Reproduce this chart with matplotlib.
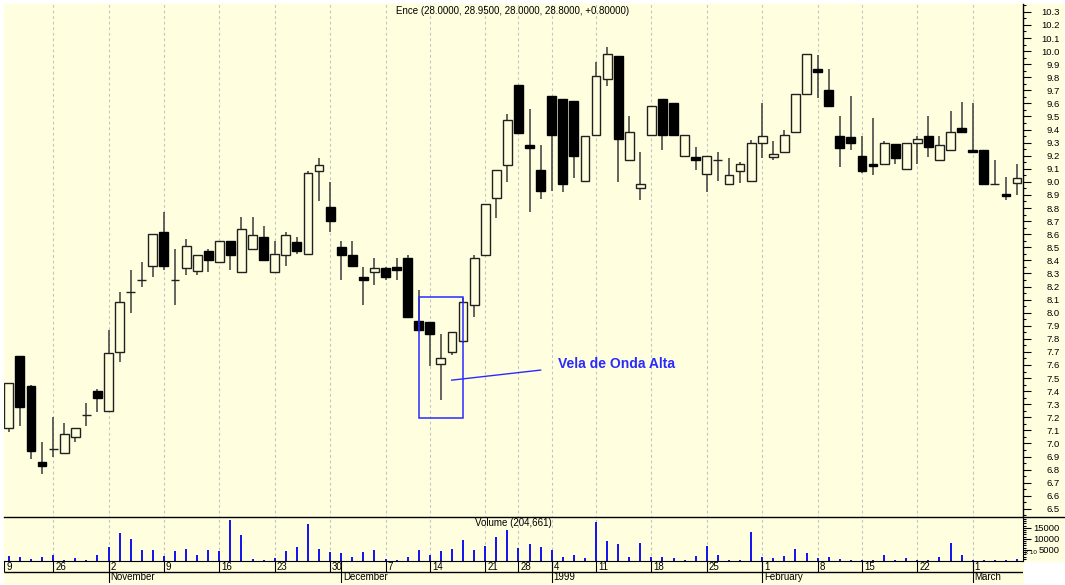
import matplotlib
matplotlib.use("Agg")
import matplotlib.pyplot as plt
import numpy as np
from matplotlib.lines import Line2D
from matplotlib.patches import Rectangle

plt.rcParams['font.family'] = ['Liberation Sans', 'DejaVu Sans']

# --- data (Ence, Oct 1998 - Mar 1999) ---
opens = [7.12, 7.67, 7.44, 6.86, 6.96, 6.93, 7.05, 7.22, 7.40, 7.25,
         7.70, 8.16, 8.25, 8.36, 8.62, 8.25, 8.34, 8.32, 8.47, 8.39,
         8.55, 8.31, 8.49, 8.58, 8.31, 8.44, 8.54, 8.45, 9.08, 8.81,
         8.50, 8.44, 8.27, 8.31, 8.34, 8.35, 8.42, 7.94, 7.93, 7.61,
         7.70, 7.78, 8.06, 8.44, 8.88, 9.13, 9.74, 9.28, 9.09, 9.66,
         9.63, 9.62, 9.01, 9.36, 9.79, 9.96, 9.17, 8.95, 9.36, 9.63,
         9.60, 9.20, 9.19, 9.06, 9.17, 8.98, 9.08, 9.01, 9.30, 9.19,
         9.23, 9.38, 9.67, 9.86, 9.70, 9.35, 9.34, 9.20, 9.14, 9.14,
         9.29, 9.10, 9.30, 9.35, 9.17, 9.24, 9.41, 9.24, 9.24, 8.98,
         8.91, 8.99]
highs = [7.46, 7.67, 7.45, 7.01, 7.20, 7.16, 7.12, 7.31, 7.42, 7.87,
         8.16, 8.33, 8.39, 8.60, 8.77, 8.49, 8.56, 8.44, 8.49, 8.55,
         8.55, 8.73, 8.73, 8.66, 8.55, 8.62, 8.58, 9.08, 9.18, 9.00,
         8.55, 8.55, 8.35, 8.42, 8.35, 8.42, 8.44, 8.17, 7.93, 7.84,
         7.85, 8.11, 8.44, 8.83, 9.09, 9.52, 9.74, 9.56, 9.28, 9.66,
         9.63, 9.62, 9.35, 9.92, 10.03, 9.96, 9.50, 9.23, 9.58, 9.63,
         9.60, 9.36, 9.27, 9.20, 9.23, 9.18, 9.15, 9.32, 9.60, 9.31,
         9.40, 9.67, 9.98, 9.97, 9.86, 9.50, 9.66, 9.35, 9.49, 9.31,
         9.29, 9.30, 9.35, 9.50, 9.35, 9.54, 9.61, 9.60, 9.24, 9.17,
         9.04, 9.14]
lows = [7.09, 7.13, 6.88, 6.77, 6.90, 6.93, 7.01, 7.13, 7.24, 7.25,
        7.62, 8.00, 8.20, 8.27, 8.33, 8.06, 8.29, 8.29, 8.31, 8.39,
        8.33, 8.31, 8.49, 8.40, 8.31, 8.36, 8.45, 8.45, 8.85, 8.62,
        8.25, 8.36, 8.06, 8.21, 8.25, 8.25, 7.97, 7.87, 7.59, 7.33,
        7.68, 7.77, 7.97, 8.44, 8.72, 9.00, 9.37, 8.77, 8.87, 8.93,
        8.92, 9.03, 9.01, 9.36, 9.73, 9.00, 9.17, 8.86, 9.36, 9.24,
        9.36, 9.20, 9.09, 8.92, 9.01, 8.98, 8.99, 9.01, 9.18, 9.17,
        9.23, 9.38, 9.67, 9.64, 9.58, 9.11, 9.24, 9.07, 9.05, 9.14,
        9.14, 9.10, 9.14, 9.19, 9.16, 9.24, 9.38, 9.23, 8.98, 8.98,
        8.86, 8.90]
closes = [7.46, 7.28, 6.94, 6.83, 6.96, 7.07, 7.12, 7.22, 7.35, 7.69,
          8.08, 8.16, 8.25, 8.60, 8.36, 8.25, 8.51, 8.44, 8.40, 8.55,
          8.44, 8.64, 8.59, 8.40, 8.45, 8.59, 8.47, 9.07, 9.13, 8.70,
          8.44, 8.36, 8.25, 8.34, 8.27, 8.33, 7.97, 7.87, 7.84, 7.65,
          7.85, 8.08, 8.42, 8.83, 9.09, 9.47, 9.37, 9.26, 8.93, 9.36,
          8.98, 9.20, 9.35, 9.81, 9.98, 9.33, 9.38, 8.98, 9.58, 9.36,
          9.36, 9.36, 9.17, 9.20, 9.17, 9.05, 9.14, 9.30, 9.35, 9.21,
          9.36, 9.67, 9.98, 9.84, 9.58, 9.26, 9.30, 9.08, 9.12, 9.30,
          9.18, 9.30, 9.33, 9.27, 9.28, 9.38, 9.38, 9.23, 8.98, 8.98,
          8.89, 9.03]
volumes = [2300, 2000, 1100, 2000, 2600, 600, 1500, 300, 2600, 6300,
           12800, 9900, 4800, 4800, 2200, 4500, 5200, 2600, 4800, 4500,
           18600, 11700, 1100, 600, 1500, 4500, 6200, 16600, 5200, 3900,
           3400, 2000, 3900, 4800, 1100, 400, 2000, 4800, 2900, 4500,
           5200, 9700, 4800, 6800, 10900, 14000, 6000, 7900, 6300, 4800,
           1800, 2600, 1400, 17400, 8900, 7500, 1800, 8300, 2000, 1800,
           1400, 300, 2300, 6600, 2900, 600, 300, 13200, 1800, 1500,
           2300, 5200, 3400, 1500, 2000, 800, 500, 400, 600, 2600,
           500, 1500, 400, 500, 2000, 8300, 2600, 400, 300, 300,
           300, 1100]

week_pos = [-0.4, 4, 9, 14, 19, 24, 29, 34, 38, 43, 46, 49, 53, 58, 63, 68, 73, 77, 82, 87]
week_labels = ['9', '26', '2', '9', '16', '23', '30', '7', '14', '21', '28',
               '4', '11', '18', '25', '1', '8', '15', '22', '1']
month_pos = [9, 30, 49, 68, 87]
month_labels = ['November', 'December', '1999', 'February', 'March']

title = "Ence (28.0000, 28.9500, 28.0000, 28.8000, +0.80000)"
vol_title = "Volume (204,661)"

W, H = 1065, 585
BG = '#FFFFE0'
XL = (-0.433, 91.51)


def fx(px):
    return px / W


def fy(py):
    return 1 - py / H


fig = plt.figure(figsize=(W / 100, H / 100), dpi=100, facecolor='white')
fig.patches.append(Rectangle((fx(4), fy(561)), fx(1059), 557 / H,
                             transform=fig.transFigure, color=BG, zorder=-10))
fig.patches.append(Rectangle((fx(4), fy(583)), fx(1018.7), 22 / H,
                             transform=fig.transFigure, color=BG, zorder=-10))

left, right = 4, 1022.7
ax = fig.add_axes([fx(left), fy(516.7), fx(right - left), (516.7 - 4) / H])
vax = fig.add_axes([fx(left), fy(561), fx(right - left), (561 - 516.7) / H])
dax = fig.add_axes([fx(left), fy(583), fx(right - left), 22 / H])

for a in (ax, vax, dax):
    a.set_facecolor('none')
    a.set_xlim(*XL)
    for s in a.spines.values():
        s.set_visible(False)
    a.set_xticks([])

# gridlines
grid_kw = dict(color='#C4C4C4', lw=0.8, linestyles=(0, (2.5, 2.5)), zorder=0)
ax.vlines(week_pos[1:], 6.0, 11.0, **grid_kw)
vax.vlines(week_pos[1:], 0, 30000, **grid_kw)

# candles
x = np.arange(len(opens))
o = np.array(opens)
c = np.array(closes)
up = c >= o
ax.vlines(x, lows, highs, color='#4a4a4a', lw=1.2, zorder=2)
ax.bar(x, np.abs(c - o), bottom=np.minimum(o, c), width=0.8,
       color=[BG if u else 'black' for u in up],
       edgecolor=['#202020' if u else 'black' for u in up],
       linewidth=1.0, zorder=3)
ax.set_ylim(6.44, 10.36)

# annotation
blue = '#2a2aff'
ax.add_patch(Rectangle((37.05, 7.196), 3.92, 0.921, fill=False,
                       edgecolor=blue, lw=1.1, zorder=4))
ax.plot([39.97, 48.0], [7.484, 7.561], color=blue, lw=1.0, zorder=4)
ax.text(49.6, 7.607, "Vela de Onda Alta", color=blue, fontsize=10,
        fontweight='bold', va='center', ha='left')

# price axis on the right
ax.spines['right'].set_visible(True)
ax.spines['right'].set_linewidth(1.0)
ax.yaxis.tick_right()
yt = np.round(np.arange(6.5, 10.31, 0.1), 1)
ax.set_yticks(yt)
ax.set_yticklabels([f"{v:.1f}" for v in yt])
ax.set_yticks(np.round(np.arange(6.45, 10.36, 0.1), 2), minor=True)
ax.tick_params(axis='y', which='major', length=5.8, width=0.8, pad=21, labelsize=6.8)
ax.tick_params(axis='y', which='minor', length=2.2, width=0.8)
for lab in ax.get_yticklabels():
    lab.set_ha('right')

# volume
vax.vlines(x, 0, volumes, color='#1010f0', lw=1.4, zorder=2)
vax.set_ylim(0, 20000)
vax.spines['right'].set_visible(True)
vax.spines['bottom'].set_visible(True)
vax.yaxis.tick_right()
vax.set_yticks([5000, 10000, 15000])
vax.set_yticklabels(['5000', '10000', '15000'])
vax.set_yticks(np.arange(1000, 20000, 1000), minor=True)
vax.tick_params(axis='y', which='major', length=5.8, width=0.8, pad=21, labelsize=6.8)
vax.tick_params(axis='y', which='minor', length=2.2, width=0.8)
for lab in vax.get_yticklabels():
    lab.set_ha('right')
fig.text(fx(1025), fy(553), "x 10", fontsize=4.5, va='center', ha='left')

# date rows
dax.set_ylim(0, 2)
dax.set_yticks([])
dax.hlines(1, *XL, color='black', lw=1.0)
dax.vlines(week_pos, 1, 2, color='black', lw=0.8)
dax.vlines(month_pos, 0, 2, color='black', lw=0.8)
for p, lab in zip(week_pos, week_labels):
    dax.text(p + 0.18, 1.5, lab, fontsize=7, va='center', ha='left')
for p, lab in zip(month_pos, month_labels):
    dax.text(p + 0.18, 0.5, lab, fontsize=7, va='center', ha='left')

# separator between price and volume panels
fig.add_artist(Line2D([fx(4), 1.0], [fy(516.7), fy(516.7)], color='black', lw=1.0))

fig.text(fx(513), fy(11), title, fontsize=7, ha='center', va='center')
fig.text(fx(513), fy(523), vol_title, fontsize=7, ha='center', va='center')

fig.savefig("out.png", dpi=100, facecolor='white')
